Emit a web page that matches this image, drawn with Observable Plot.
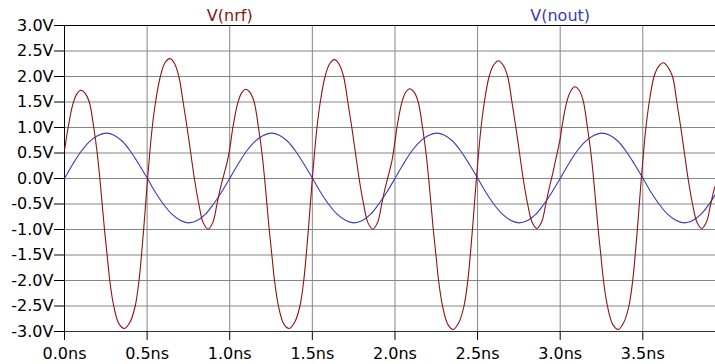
<!DOCTYPE html>
<html>
<head>
<meta charset="utf-8">
<script src="https://cdn.jsdelivr.net/npm/d3@7"></script>
<script src="https://cdn.jsdelivr.net/npm/@observablehq/plot@0.6"></script>
<style>
  html, body { margin: 0; padding: 0; background: #ffffff; }
  #chart svg { display: block; }
</style>
</head>
<body>
<div id="chart"></div>
<script>
// ---- Data ----
const seriesNames = ["V(nrf)", "V(nout)"];
const seriesColors = ["#8b1414", "#3a3ab4"];
const labelTimes = [1.0, 3.0];

const xTicks = [0, 0.5, 1.0, 1.5, 2.0, 2.5, 3.0, 3.5];
const yTicks = [-3.0, -2.5, -2.0, -1.5, -1.0, -0.5, 0.0, 0.5, 1.0, 1.5, 2.0, 2.5, 3.0];

// V(nrf): time (ns) and voltage (V)
const nrfTime = [
  0.000, 0.022, 0.050, 0.075, 0.100, 0.125, 0.150, 0.177, 0.198, 0.214, 0.228, 0.242, 0.258, 0.274, 0.298, 0.330, 0.363, 0.396, 0.428, 0.451, 0.466, 0.479, 0.491, 0.503, 0.516, 0.531, 0.551, 0.580, 0.608, 0.637, 0.665, 0.692, 0.718, 0.742, 0.764, 0.786, 0.813, 0.840, 0.869, 0.898, 0.923, 0.945, 0.965, 0.985,
  1.000, 1.019, 1.047, 1.072, 1.097, 1.122, 1.147, 1.174, 1.195, 1.211, 1.225, 1.239, 1.255, 1.271, 1.295, 1.327, 1.360, 1.393, 1.425, 1.448, 1.463, 1.476, 1.488, 1.500, 1.513, 1.528, 1.548, 1.577, 1.605, 1.634, 1.662, 1.689, 1.715, 1.739, 1.761, 1.783, 1.810, 1.837, 1.866, 1.895, 1.920, 1.942, 1.962, 1.982,
  2.000, 2.012, 2.040, 2.065, 2.090, 2.115, 2.140, 2.167, 2.188, 2.204, 2.218, 2.232, 2.248, 2.264, 2.288, 2.320, 2.353, 2.386, 2.418, 2.441, 2.456, 2.469, 2.481, 2.493, 2.506, 2.521, 2.541, 2.570, 2.598, 2.627, 2.655, 2.682, 2.708, 2.732, 2.754, 2.776, 2.803, 2.830, 2.859, 2.888, 2.913, 2.935, 2.955, 2.975,
  3.000, 3.010, 3.038, 3.063, 3.088, 3.113, 3.138, 3.165, 3.186, 3.202, 3.216, 3.230, 3.246, 3.262, 3.286, 3.318, 3.351, 3.384, 3.416, 3.439, 3.454, 3.467, 3.479, 3.491, 3.504, 3.519, 3.539, 3.568, 3.596, 3.625, 3.653, 3.680, 3.706, 3.730, 3.752, 3.774, 3.801, 3.828, 3.857, 3.886, 3.911, 3.933, 3.940
];
const nrfVolt = [
  0.55, 1.00, 1.45, 1.66, 1.73, 1.67, 1.50, 1.00, 0.50, 0.00, -0.50, -1.00, -1.50, -2.00, -2.50, -2.85, -2.94, -2.82, -2.50, -2.00, -1.50, -1.00, -0.50, 0.00, 0.50, 1.00, 1.50, 2.00, 2.27, 2.35, 2.26, 2.00, 1.50, 1.00, 0.50, 0.00, -0.50, -0.87, -0.99, -0.86, -0.50, -0.17, 0.08, 0.33,
  0.58, 1.00, 1.46, 1.68, 1.75, 1.69, 1.51, 1.00, 0.50, 0.00, -0.50, -1.00, -1.50, -2.00, -2.50, -2.85, -2.94, -2.82, -2.50, -2.00, -1.50, -1.00, -0.50, 0.00, 0.50, 1.00, 1.50, 2.00, 2.25, 2.33, 2.24, 2.00, 1.50, 1.00, 0.50, 0.00, -0.50, -0.87, -0.99, -0.86, -0.50, -0.17, 0.08, 0.35,
  0.72, 1.00, 1.47, 1.69, 1.76, 1.70, 1.51, 1.00, 0.50, 0.00, -0.50, -1.00, -1.50, -2.00, -2.50, -2.86, -2.96, -2.83, -2.50, -2.00, -1.50, -1.00, -0.50, 0.00, 0.50, 1.00, 1.50, 2.00, 2.23, 2.31, 2.22, 2.00, 1.50, 1.00, 0.50, 0.00, -0.50, -0.86, -0.98, -0.85, -0.50, -0.17, 0.10, 0.40,
  0.78, 1.00, 1.48, 1.71, 1.80, 1.74, 1.54, 1.00, 0.50, 0.00, -0.50, -1.00, -1.50, -2.00, -2.50, -2.86, -2.96, -2.83, -2.50, -2.00, -1.50, -1.00, -0.50, 0.00, 0.50, 1.00, 1.50, 2.00, 2.20, 2.27, 2.18, 2.00, 1.50, 1.00, 0.50, 0.00, -0.50, -0.86, -0.98, -0.85, -0.50, -0.20, -0.14
];

// V(nout): time (ns) and voltage (V)
const noutTime = [
  0.00, 0.05, 0.10, 0.15, 0.20, 0.25, 0.30, 0.35, 0.40, 0.45, 0.50, 0.55, 0.60, 0.65, 0.70, 0.75, 0.80, 0.85, 0.90, 0.95,
  1.00, 1.05, 1.10, 1.15, 1.20, 1.25, 1.30, 1.35, 1.40, 1.45, 1.50, 1.55, 1.60, 1.65, 1.70, 1.75, 1.80, 1.85, 1.90, 1.95,
  2.00, 2.05, 2.10, 2.15, 2.20, 2.25, 2.30, 2.35, 2.40, 2.45, 2.50, 2.55, 2.60, 2.65, 2.70, 2.75, 2.80, 2.85, 2.90, 2.95,
  3.00, 3.05, 3.10, 3.15, 3.20, 3.25, 3.30, 3.35, 3.40, 3.45, 3.50, 3.55, 3.60, 3.65, 3.70, 3.75, 3.80, 3.85, 3.90, 3.94
];
const noutVolt = [
  0.00, 0.28, 0.53, 0.72, 0.84, 0.89, 0.85, 0.73, 0.53, 0.28, 0.01, -0.27, -0.51, -0.70, -0.82, -0.87, -0.83, -0.71, -0.51, -0.27,
  0.00, 0.28, 0.53, 0.72, 0.84, 0.89, 0.85, 0.73, 0.53, 0.28, 0.01, -0.27, -0.51, -0.70, -0.82, -0.87, -0.83, -0.71, -0.51, -0.27,
  0.00, 0.28, 0.53, 0.72, 0.84, 0.89, 0.85, 0.73, 0.53, 0.28, 0.01, -0.27, -0.51, -0.70, -0.82, -0.87, -0.83, -0.71, -0.51, -0.27,
  0.00, 0.28, 0.53, 0.72, 0.84, 0.89, 0.85, 0.73, 0.53, 0.28, 0.01, -0.27, -0.51, -0.70, -0.82, -0.87, -0.83, -0.71, -0.51, -0.31
];

// ---- Build tables for Plot ----
const nrf = nrfTime.map((t, i) => ({t, v: nrfVolt[i]}));
const nout = noutTime.map((t, i) => ({t, v: noutVolt[i]}));
const labels = seriesNames.map((name, i) => ({name, t: labelTimes[i], color: seriesColors[i]}));

const fontFamily = "'DejaVu Sans', Verdana, sans-serif";
const innerX = xTicks.filter(d => d > 0);
const innerY = yTicks.filter(d => d > -3 && d < 3);

const chart = Plot.plot({
  width: 715,
  height: 364,
  marginLeft: 64,
  marginRight: 0,
  marginTop: 25,
  marginBottom: 33,
  style: {fontFamily, fontSize: "16px", color: "#000", background: "#fff", overflow: "visible"},
  x: {domain: [0, 3.94]},
  y: {domain: [-3, 3]},
  marks: [
    Plot.ruleX(innerX, {stroke: "#858585", strokeWidth: 1}),
    Plot.ruleY(innerY, {stroke: "#858585", strokeWidth: 1}),
    Plot.ruleX([0], {stroke: "#000", strokeWidth: 1}),
    Plot.ruleY([3], {stroke: "#000", strokeWidth: 1}),
    Plot.ruleY([-3], {stroke: "#333", strokeWidth: 1}),
    Plot.axisY(yTicks, {
      tickSize: 10, tickPadding: 1, label: null, fontSize: 16,
      tickFormat: d => d.toFixed(1) + "V"
    }),
    Plot.axisX(xTicks, {
      tickSize: 9, tickPadding: 7, label: null, fontSize: 16,
      tickFormat: d => d.toFixed(1) + "ns"
    }),
    Plot.line(nout, {x: "t", y: "v", stroke: seriesColors[1], strokeWidth: 1.1, curve: "catmull-rom"}),
    Plot.line(nrf, {x: "t", y: "v", stroke: seriesColors[0], strokeWidth: 1.1, curve: "catmull-rom"}),
    Plot.text(labels, {x: "t", text: "name", fill: "color", frameAnchor: "top", lineAnchor: "middle", dy: -10, fontSize: 16})
  ]
});
document.getElementById("chart").appendChild(chart);
</script>
</body>
</html>
